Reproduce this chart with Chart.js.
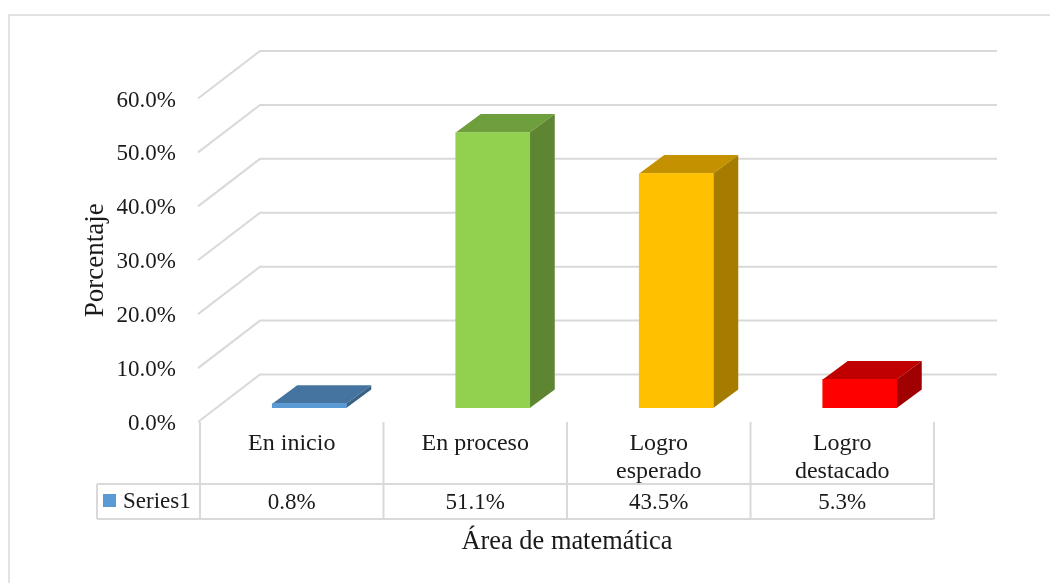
<!DOCTYPE html>
<html>
<head>
<meta charset="utf-8">
<style>
  html, body { margin: 0; padding: 0; background: #fff; }
  canvas { display: block; }
</style>
<script src="https://cdn.jsdelivr.net/npm/chart.js@4"></script>
</head>
<body>
<canvas id="chart" width="1050" height="583"></canvas>
<script>
const categories = ['En inicio', 'En proceso', ['Logro', 'esperado'], ['Logro', 'destacado']];
const seriesName = 'Series1';
const seriesValues = [0.8, 51.1, 43.5, 5.3];
const tickValues = [0, 10, 20, 30, 40, 50, 60];

const FRONT_COLORS = ['#5b9bd5', '#92d050', '#ffc000', '#ff0000'];
const TOP_COLORS = ['#44749f', '#6f9e3d', '#c49200', '#c00000'];
const SIDE_COLORS = ['#3a6286', '#5e8532', '#a67c00', '#a00000'];
const LINE_COLOR = '#d9d9d9';
const TEXT_COLOR = '#1a1a1a';
const FONT_FAMILY = '"Liberation Serif", "Times New Roman", serif';

// fake 3d: depth of the walls, depth of a bar, shift of the bars into the box
const WALL_DX = 62, WALL_DY = 47.5, WALL_RIGHT = 997;
const BAR_DX = 25, BAR_DY = 18.5;
const SHIFT_X = 17.5, SHIFT_Y = -14;

const backdrop = {
  id: 'backdrop',
  beforeDraw(chart) {
    const ctx = chart.ctx;
    ctx.save();
    ctx.fillStyle = '#fff';
    ctx.fillRect(0, 0, chart.width, chart.height);
    ctx.strokeStyle = '#e2e2e2';
    ctx.lineWidth = 2;
    ctx.beginPath();
    ctx.moveTo(9, chart.height);
    ctx.lineTo(9, 15);
    ctx.lineTo(chart.width, 15);
    ctx.stroke();
    ctx.restore();
  },
  beforeDatasetsDraw(chart) {
    const ctx = chart.ctx;
    const y = chart.scales.y;
    const left = chart.chartArea.left - 2;
    ctx.save();
    ctx.strokeStyle = LINE_COLOR;
    ctx.lineWidth = 2;
    tickValues.forEach(v => {
      const py = y.getPixelForValue(v);
      ctx.beginPath();
      ctx.moveTo(left, py);
      ctx.lineTo(left + WALL_DX, py - WALL_DY);
      ctx.lineTo(WALL_RIGHT, py - WALL_DY);
      ctx.stroke();
    });
    ctx.restore();
  },
};

const bars3d = {
  id: 'bars3d',
  beforeDatasetDraw(chart, args) {
    const ctx = chart.ctx;
    ctx.save();
    ctx.translate(SHIFT_X, SHIFT_Y);
    args.meta.data.forEach((bar, i) => {
      const { x, y, base, width } = bar.getProps(['x', 'y', 'base', 'width'], true);
      const l = x - width / 2, r = x + width / 2;
      ctx.fillStyle = TOP_COLORS[i];
      ctx.beginPath();
      ctx.moveTo(l, y);
      ctx.lineTo(l + BAR_DX, y - BAR_DY);
      ctx.lineTo(r + BAR_DX, y - BAR_DY);
      ctx.lineTo(r, y);
      ctx.closePath();
      ctx.fill();
      ctx.fillStyle = SIDE_COLORS[i];
      ctx.beginPath();
      ctx.moveTo(r, y);
      ctx.lineTo(r + BAR_DX, y - BAR_DY);
      ctx.lineTo(r + BAR_DX, base - BAR_DY);
      ctx.lineTo(r, base);
      ctx.closePath();
      ctx.fill();
    });
  },
  afterDatasetDraw(chart) {
    chart.ctx.restore();
  },
};

const dataTable = {
  id: 'dataTable',
  afterDraw(chart) {
    const ctx = chart.ctx;
    const x = chart.scales.x;
    const area = chart.chartArea;
    const rowTop = 484, rowBottom = 519, tableLeft = 97;
    const half = (x.getPixelForTick(1) - x.getPixelForTick(0)) / 2;
    ctx.save();
    ctx.strokeStyle = LINE_COLOR;
    ctx.lineWidth = 2;
    ctx.beginPath();
    ctx.moveTo(tableLeft, rowTop);
    ctx.lineTo(area.right, rowTop);
    ctx.moveTo(tableLeft, rowBottom);
    ctx.lineTo(area.right, rowBottom);
    ctx.moveTo(tableLeft, rowTop);
    ctx.lineTo(tableLeft, rowBottom);
    ctx.moveTo(area.left, area.bottom);
    ctx.lineTo(area.left, rowBottom);
    categories.forEach((c, i) => {
      const px = x.getPixelForTick(i) + half;
      ctx.moveTo(px, area.bottom);
      ctx.lineTo(px, rowBottom);
    });
    ctx.stroke();

    ctx.font = '23px ' + FONT_FAMILY;
    ctx.fillStyle = TEXT_COLOR;
    ctx.textBaseline = 'alphabetic';
    ctx.textAlign = 'center';
    seriesValues.forEach((v, i) => {
      ctx.fillText(v.toFixed(1) + '%', x.getPixelForTick(i), 509);
    });
    ctx.textAlign = 'left';
    ctx.fillText(seriesName, 123, 508);
    ctx.fillStyle = FRONT_COLORS[0];
    ctx.fillRect(103, 494, 13, 13);
    ctx.restore();
  },
};

new Chart(document.getElementById('chart'), {
  type: 'bar',
  data: {
    labels: categories,
    datasets: [{
      label: seriesName,
      data: seriesValues,
      backgroundColor: FRONT_COLORS,
      barThickness: 74,
    }],
  },
  options: {
    responsive: false,
    animation: false,
    layout: { padding: { left: 76, right: 116, top: 98.5, bottom: 21 } },
    plugins: { legend: { display: false }, tooltip: { enabled: false } },
    scales: {
      x: {
        grid: { display: false },
        border: { display: false },
        afterFit: s => { s.height = 140; },
        ticks: {
          color: TEXT_COLOR,
          padding: 0,
          maxRotation: 0,
          autoSkip: false,
          font: { family: FONT_FAMILY, size: 24, lineHeight: 1.17 },
        },
        title: {
          display: true,
          text: 'Área de matemática',
          color: TEXT_COLOR,
          font: { family: FONT_FAMILY, size: 26.4 },
        },
      },
      y: {
        min: 0,
        max: 60,
        grid: { display: false, drawTicks: false },
        border: { display: false },
        afterFit: s => { s.width = 124; },
        afterBuildTicks: s => { s.ticks = tickValues.map(value => ({ value })); },
        ticks: {
          color: TEXT_COLOR,
          padding: 24,
          labelOffset: 2,
          font: { family: FONT_FAMILY, size: 23 },
          callback: v => v.toFixed(1) + '%',
        },
        title: {
          display: true,
          text: 'Porcentaje',
          color: TEXT_COLOR,
          font: { family: FONT_FAMILY, size: 27 },
        },
      },
    },
  },
  plugins: [backdrop, bars3d, dataTable],
});
</script>
</body>
</html>
